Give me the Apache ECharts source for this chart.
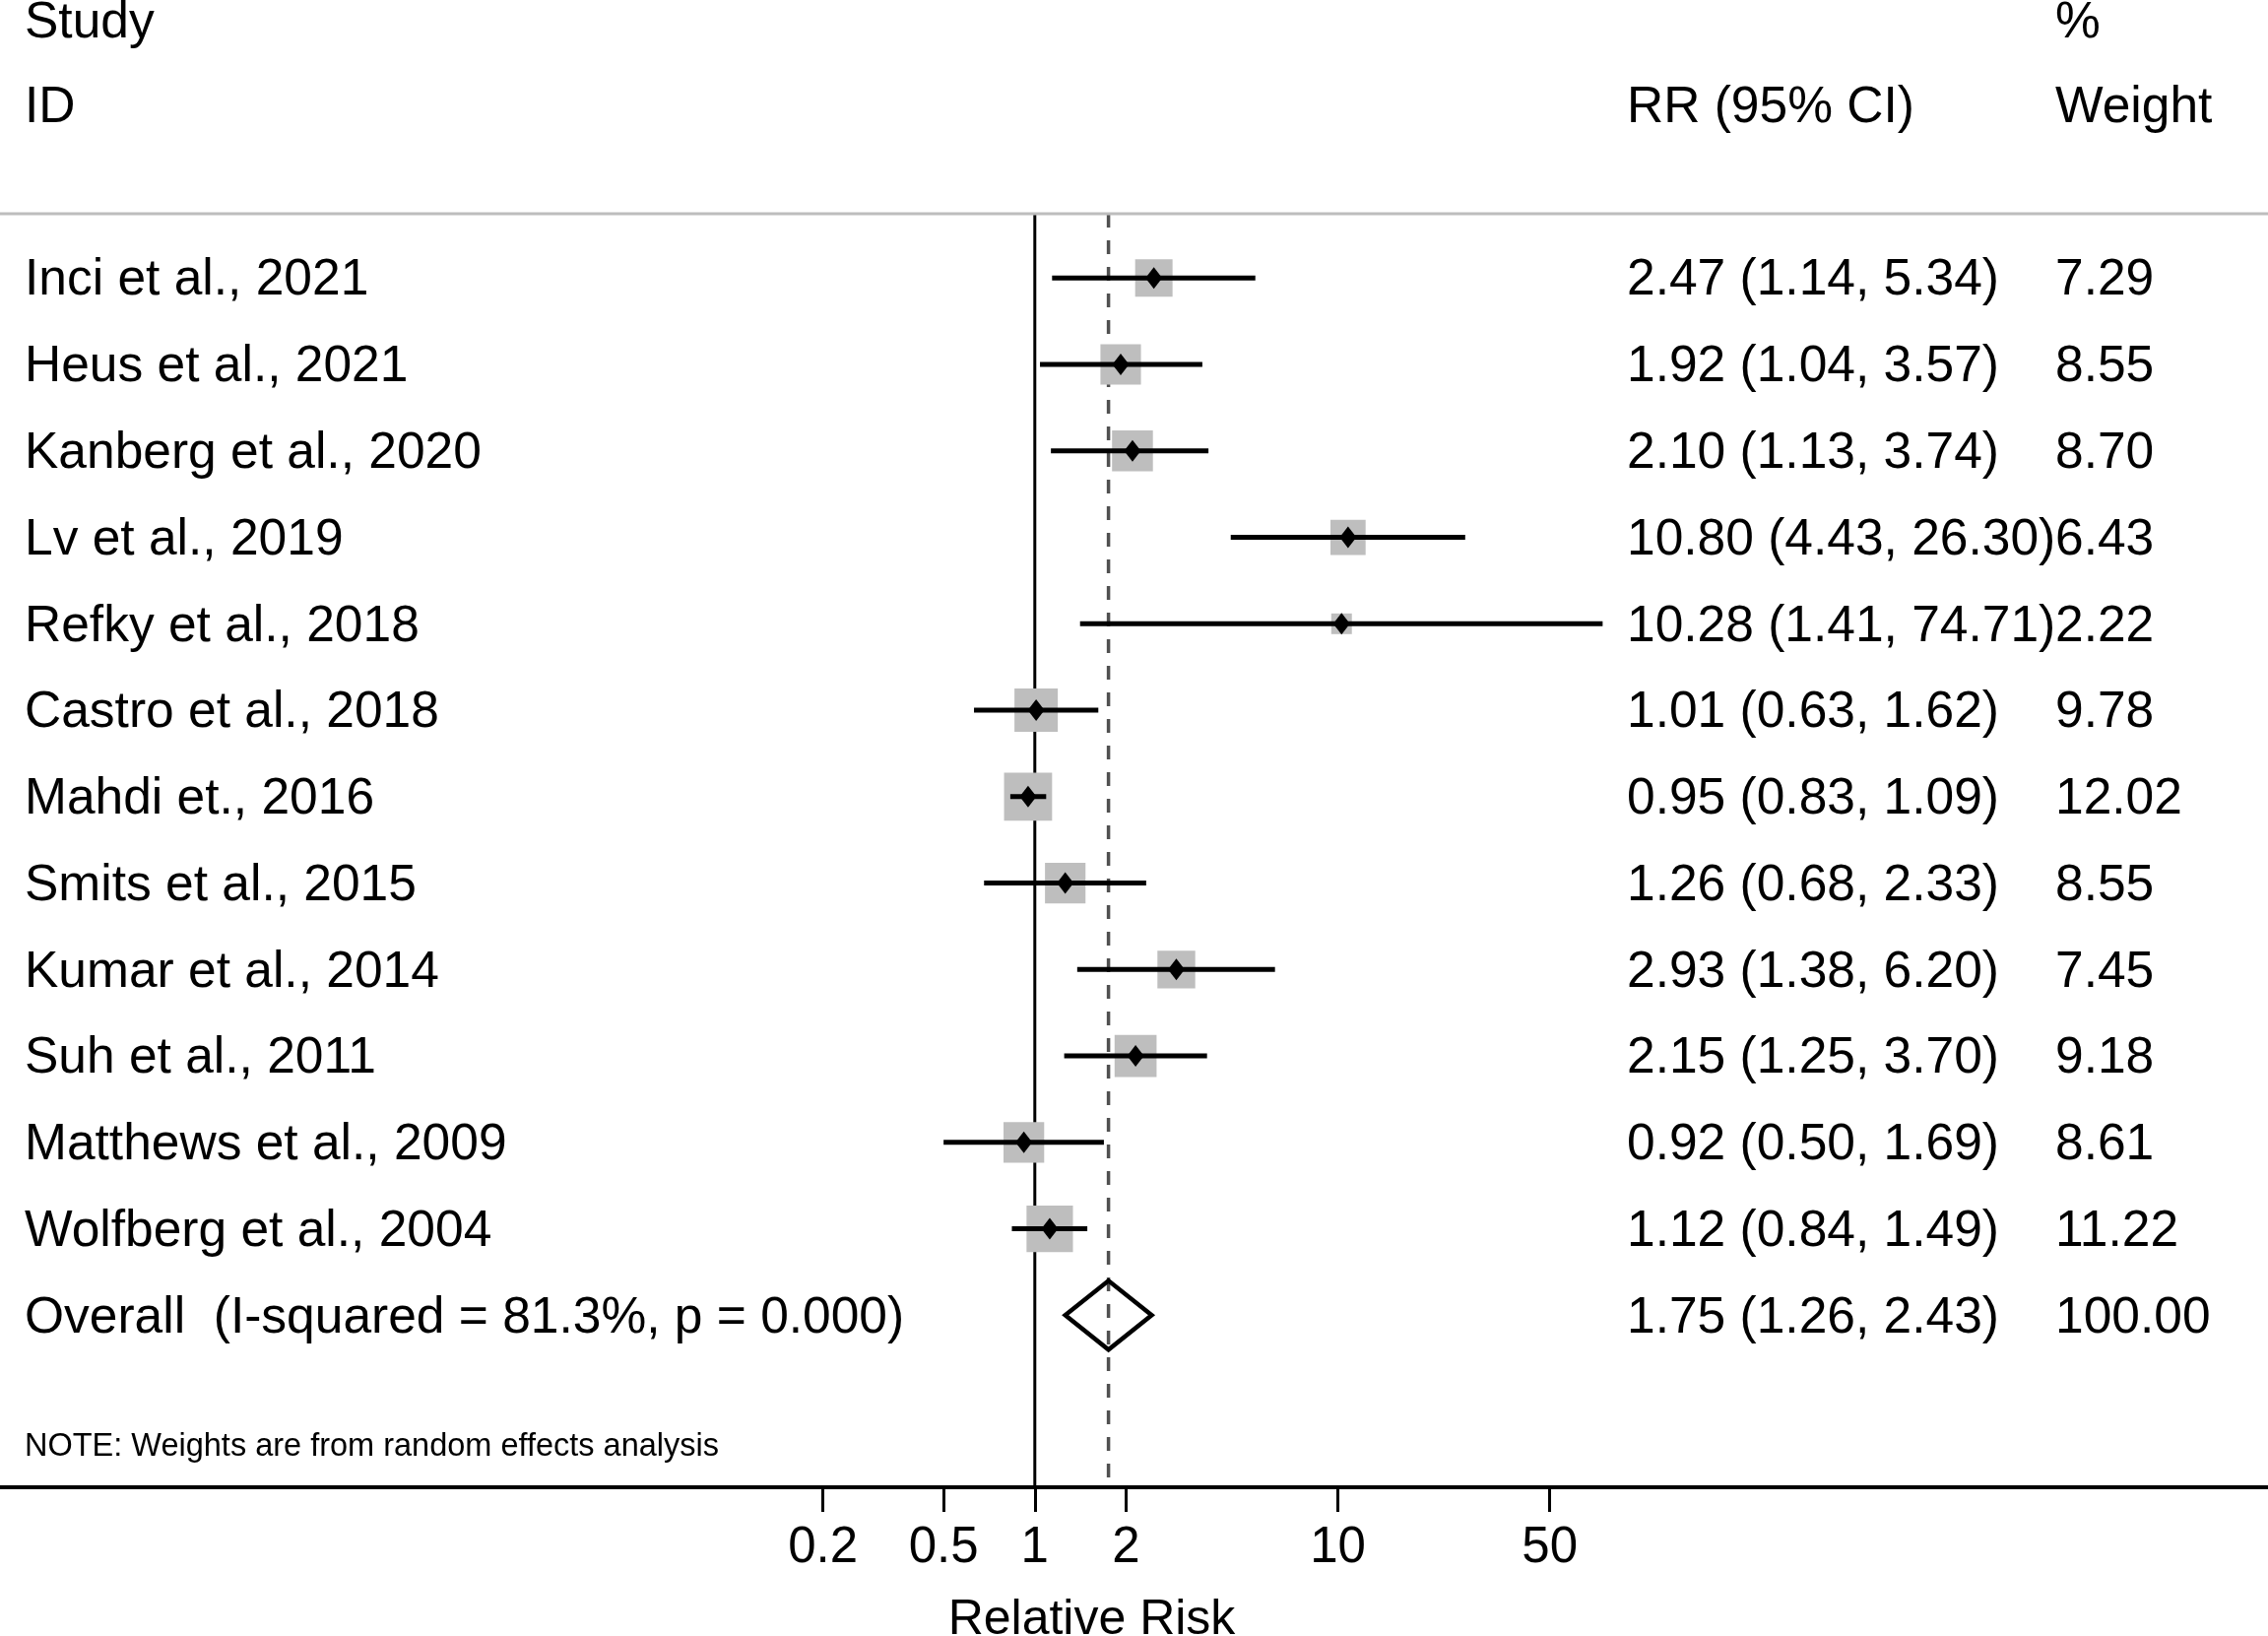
<!DOCTYPE html>
<html>
<head>
<meta charset="utf-8">
<title>Forest plot - Relative Risk</title>
<script src="https://cdn.jsdelivr.net/npm/echarts@6/dist/echarts.min.js"></script>
<style>
html, body { margin: 0; padding: 0; background: #fff; }
#main { width: 2303px; height: 1661px; }
</style>
</head>
<body>
<div id="main"></div>
<script>
// rows from top to bottom
var studies = ['Inci et al., 2021', 'Heus et al., 2021', 'Kanberg et al., 2020', 'Lv et al., 2019',
    'Refky et al., 2018', 'Castro et al., 2018', 'Mahdi et., 2016', 'Smits et al., 2015',
    'Kumar et al., 2014', 'Suh et al., 2011', 'Matthews et al., 2009', 'Wolfberg et al., 2004'];
var rr = [2.47, 1.92, 2.10, 10.80, 10.28, 1.01, 0.95, 1.26, 2.93, 2.15, 0.92, 1.12];
var lower = [1.14, 1.04, 1.13, 4.43, 1.41, 0.63, 0.83, 0.68, 1.38, 1.25, 0.50, 0.84];
var upper = [5.34, 3.57, 3.74, 26.30, 74.71, 1.62, 1.09, 2.33, 6.20, 3.70, 1.69, 1.49];
var weights = [7.29, 8.55, 8.70, 6.43, 2.22, 9.78, 12.02, 8.55, 7.45, 9.18, 8.61, 11.22];

var overallLabel = 'Overall  (I-squared = 81.3%, p = 0.000)';
var overallRR = 1.75;
var overallLower = 1.26;
var overallUpper = 2.43;
var overallWeight = 100.00;

var xTicks = [0.2, 0.5, 1, 2, 10, 50];

var FONT = "'Liberation Sans', Arial, sans-serif";
var TEXT_DY = 3; // canvas middle sits a bit high against the cap height

function ciText(est, lo, hi) {
    return est.toFixed(2) + ' (' + lo.toFixed(2) + ', ' + hi.toFixed(2) + ')';
}

var labelRows = [];
var rrRows = [];
var weightRows = [];
for (var i = 0; i < studies.length; i++) {
    labelRows.push(studies[i]);
    rrRows.push(ciText(rr[i], lower[i], upper[i]));
    weightRows.push(weights[i].toFixed(2));
}
labelRows.push(overallLabel);
rrRows.push(ciText(overallRR, overallLower, overallUpper));
weightRows.push(overallWeight.toFixed(2));

var overallRow = studies.length;

var boxData = [];
var pointData = [];
var ciData = [];
for (var j = 0; j < studies.length; j++) {
    boxData.push([rr[j], j, weights[j]]);
    pointData.push([rr[j], j]);
    ciData.push([lower[j], upper[j], j]);
}
var rowData = [];
for (var k = 0; k < labelRows.length; k++) rowData.push([1, k]);

function headerText(str, x, y, size) {
    return { type: 'text', x: x, y: y + TEXT_DY, style: { text: str, fill: '#000', font: size + 'px ' + FONT, verticalAlign: 'middle' } };
}

var chart = echarts.init(document.getElementById('main'));

var option = {
    backgroundColor: '#fff',
    animation: false,
    grid: { left: 0, right: 0, top: 217, bottom: 151, containLabel: false, outerBoundsMode: 'none' },
    xAxis: {
        type: 'log',
        logBase: 10,
        min: 3.853e-4,
        max: 11712,
        name: 'Relative Risk',
        nameLocation: 'middle',
        nameGap: 110,
        nameTextStyle: { color: '#000', fontSize: 50, fontFamily: FONT, padding: [0, 86, 0, 0] },
        axisLine: { show: true, onZero: false, lineStyle: { color: '#000', width: 4 } },
        axisTick: { show: true, length: 25, lineStyle: { color: '#000', width: 3 }, customValues: xTicks },
        axisLabel: {
            show: true, margin: 36, color: '#000', fontSize: 51, fontFamily: FONT,
            customValues: xTicks,
            formatter: function (v) { return String(+(+v).toPrecision(3)); }
        },
        splitLine: { show: false },
        minorTick: { show: false }
    },
    yAxis: {
        type: 'value',
        inverse: true,
        min: -0.744,
        max: 13.99,
        show: false
    },
    graphic: [
        { type: 'line', z: 10, shape: { x1: 0, y1: 217, x2: 2303, y2: 217 }, style: { stroke: '#bdbdbd', lineWidth: 3 } },
        headerText('Study', 25, 21, 51.5),
        headerText('ID', 25, 107, 51.5),
        headerText('RR (95% CI)', 1652, 107, 51.5),
        headerText('%', 2087, 21, 51.5),
        headerText('Weight', 2087, 107, 51.5),
        headerText('NOTE: Weights are from random effects analysis', 25, 1466, 32.5)
    ],
    series: [
        {
            // null line at 1 and dashed line at the pooled estimate
            type: 'custom',
            z: 1,
            silent: true,
            data: [[1, 0], [overallRR, 1]],
            encode: { x: 0 },
            renderItem: function (params, api) {
                var cs = params.coordSys;
                var x = api.coord([api.value(0), 0])[0];
                var dashed = api.value(1) === 1;
                return {
                    type: 'line',
                    shape: { x1: x, y1: cs.y, x2: x, y2: cs.y + cs.height },
                    style: dashed
                        ? { stroke: '#505050', lineWidth: 3.5, lineDash: [14, 13] }
                        : { stroke: '#000', lineWidth: 3 }
                };
            }
        },
        {
            name: 'weight',
            type: 'scatter',
            z: 2,
            symbol: 'rect',
            symbolSize: function (val) { return 14.07 * Math.sqrt(val[2]); },
            itemStyle: { color: '#bebebe', opacity: 1 },
            data: boxData
        },
        {
            name: 'ci',
            type: 'custom',
            z: 3,
            data: ciData,
            encode: { x: [0, 1], y: 2 },
            renderItem: function (params, api) {
                var a = api.coord([api.value(0), api.value(2)]);
                var b = api.coord([api.value(1), api.value(2)]);
                return {
                    type: 'line',
                    shape: { x1: a[0], y1: a[1], x2: b[0], y2: b[1] },
                    style: { stroke: '#000', lineWidth: 5 }
                };
            }
        },
        {
            name: 'rr',
            type: 'scatter',
            z: 4,
            symbol: 'diamond',
            symbolSize: [17, 22],
            itemStyle: { color: '#000', opacity: 1 },
            data: pointData
        },
        {
            name: 'overall',
            type: 'custom',
            z: 3,
            data: [[overallRR, overallLower, overallUpper, overallRow]],
            encode: { x: [0, 1, 2], y: 3 },
            renderItem: function (params, api) {
                var row = api.value(3);
                var c = api.coord([api.value(0), row]);
                var l = api.coord([api.value(1), row]);
                var r = api.coord([api.value(2), row]);
                var h = 35;
                return {
                    type: 'polygon',
                    shape: { points: [[l[0], c[1]], [c[0], c[1] - h], [r[0], c[1]], [c[0], c[1] + h]] },
                    style: { fill: 'none', stroke: '#000', lineWidth: 4.5, lineJoin: 'miter' }
                };
            }
        },
        {
            name: 'text',
            type: 'custom',
            z: 5,
            silent: true,
            data: rowData,
            encode: { y: 1 },
            renderItem: function (params, api) {
                var idx = params.dataIndex;
                var y = api.coord([1, api.value(1)])[1] + TEXT_DY;
                var font = '51.5px ' + FONT;
                return {
                    type: 'group',
                    children: [
                        { type: 'text', style: { text: labelRows[idx], x: 25, y: y, fill: '#000', font: font, verticalAlign: 'middle', align: 'left' } },
                        { type: 'text', style: { text: rrRows[idx], x: 1652, y: y, fill: '#000', font: font, verticalAlign: 'middle', align: 'left' } },
                        { type: 'text', style: { text: weightRows[idx], x: 2087, y: y, fill: '#000', font: font, verticalAlign: 'middle', align: 'left' } }
                    ]
                };
            }
        }
    ]
};

option && chart.setOption(option);
</script>
</body>
</html>
